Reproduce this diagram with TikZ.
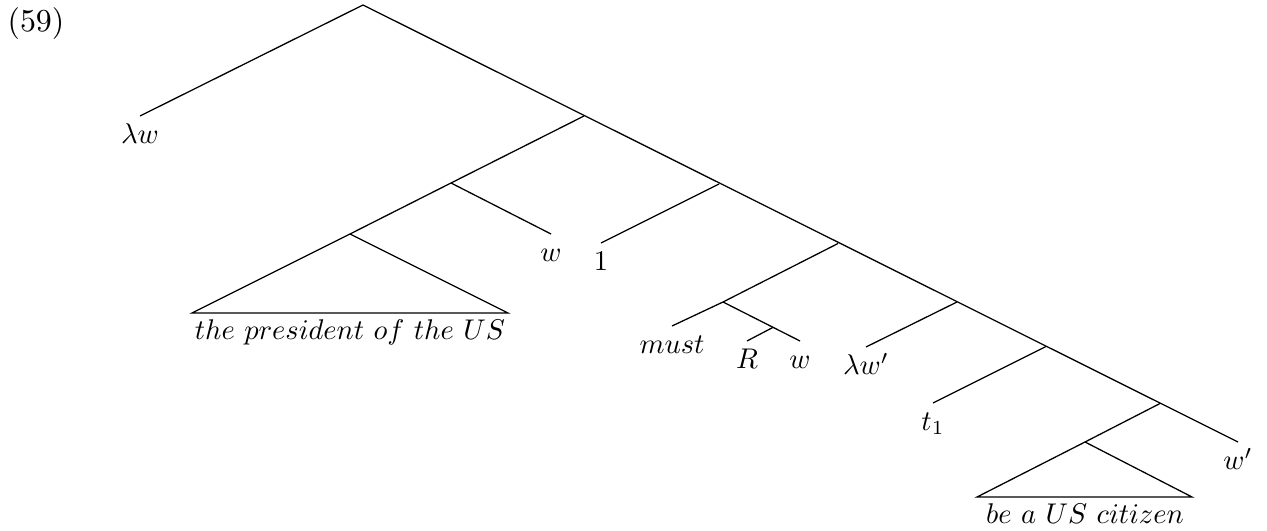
\documentclass[tikz,border=0pt]{standalone}
\usepackage{amsmath,amssymb}
\usepackage{tikz}
\usetikzlibrary{positioning, calc}
\tikzset{
    leaf/.style={anchor=north, inner sep=2.6pt, text height=1.6ex, text depth=.25ex},
    roof_label/.style={anchor=north, inner sep=2pt},
    branch/.style={line width=0.45pt}
}

\begin{document}
\begin{tikzpicture}[x=0.351pt, y=-0.351pt, every path/.style={branch}]
			\useasboundingbox (0,0) rectangle (1267,531);
			\node (ex) [scale=1.12] at (36,24) {(59)};

			\coordinate (root) at (363,5);
			\coordinate (n1) at (584,116);
			\coordinate (n2) at (451,183);
			\coordinate (pres_top) at (350,234);
			\coordinate (n3) at (719,184);
			\coordinate (n4) at (838,243.5);
			\coordinate (n5) at (723,302);
			\coordinate (n6) at (957,302);
			\coordinate (n7) at (1046,346.5);
			\coordinate (n8) at (1160,403.5);
			\coordinate (cit_top) at (1085,442);

			\node (lw) [leaf] at (140,116) {$\lambda w$};
			\node (w1) [leaf] at (551,234) {$w$};
			\node (one) [leaf] at (601,243) {$1$};
			\node (must) [leaf] at (672,326) {$must$};
			\node (R) [leaf] at (747,341) {$R$};
			\node (w2) [leaf] at (800,341) {$w$};
			\node (lw2) [leaf] at (866,347) {$\lambda w'$};
			\node (t1) [leaf] at (933,403) {$t_1$};
			\node (w3) [leaf] at (1238,442) {$w'$};

			\coordinate (pres_l) at (192,313);
			\coordinate (pres_r) at (508,313);
			\node (pres) [roof_label] at (350,313) {$the\ president\ of\ the\ US$};
			\coordinate (cit_l) at (977,497);
			\coordinate (cit_r) at (1192,497);
			\node (cit) [roof_label] at (1085,497) {$be\ a\ US\ citizen$};

			\draw (lw.north) -- (root) -- (w3.north);
			\draw (n1) -- (n2) -- (pres_top);
			\draw (n2) -- (w1.north);
			\draw (n3) -- (one.north);
			\draw (n4) -- (n5) -- (must.north);
			\draw (n5) -- (w2.north);
			\coordinate (rw) at ($(n5)!0.65!(w2.north)$);
			\draw (rw) -- (R.north);
			\draw (n6) -- (lw2.north);
			\draw (n7) -- (t1.north);
			\draw (n8) -- (cit_top);

			\draw (pres_top) -- (pres_l) -- (pres_r) -- cycle;
			\draw (cit_top) -- (cit_l) -- (cit_r) -- cycle;
		\end{tikzpicture}
\end{document}
